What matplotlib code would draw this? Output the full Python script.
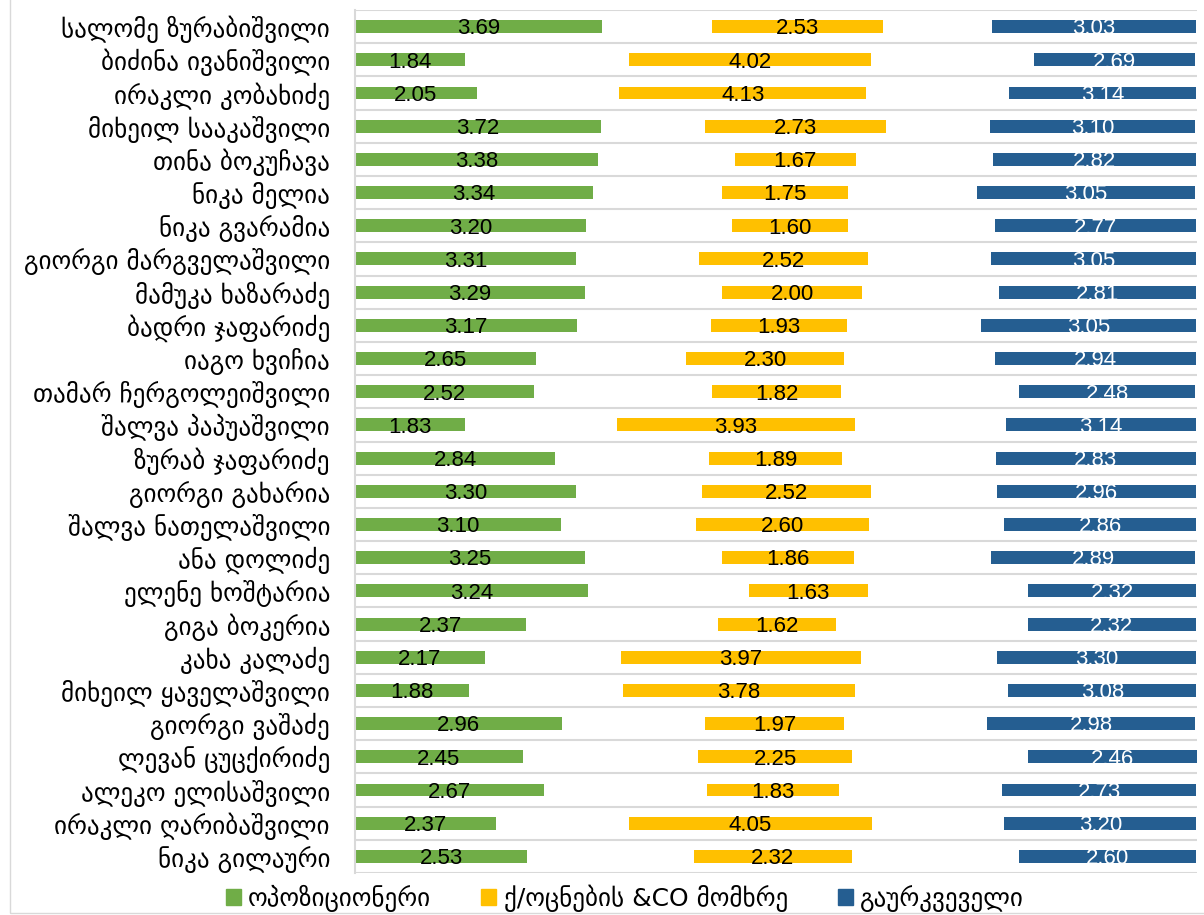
import matplotlib.pyplot as plt
import numpy as np
from matplotlib.patches import Rectangle, Patch

names = ['სალომე ზურაბიშვილი', 'ბიძინა ივანიშვილი', 'ირაკლი კობახიძე', 'მიხეილ სააკაშვილი',
         'თინა ბოკუჩავა', 'ნიკა მელია', 'ნიკა გვარამია', 'გიორგი მარგველაშვილი',
         'მამუკა ხაზარაძე', 'ბადრი ჯაფარიძე', 'იაგო ხვიჩია', 'თამარ ჩერგოლეიშვილი',
         'შალვა პაპუაშვილი', 'ზურაბ ჯაფარიძე', 'გიორგი გახარია', 'შალვა ნათელაშვილი',
         'ანა დოლიძე', 'ელენე ხოშტარია', 'გიგა ბოკერია', 'კახა კალაძე',
         'მიხეილ ყაველაშვილი', 'გიორგი ვაშაძე', 'ლევან ცუცქირიძე', 'ალეკო ელისაშვილი',
         'ირაკლი ღარიბაშვილი', 'ნიკა გილაური']

series_names = ['ოპოზიციონერი', 'ქ/ოცნების &CO მომხრე', 'გაურკვეველი']

# value labels shown on the bars
opp_lbl = [3.69, 1.84, 2.05, 3.72, 3.38, 3.34, 3.20, 3.31, 3.29, 3.17, 2.65, 2.52, 1.83,
           2.84, 3.30, 3.10, 3.25, 3.24, 2.37, 2.17, 1.88, 2.96, 2.45, 2.67, 2.37, 2.53]
gov_lbl = [2.53, 4.02, 4.13, 2.73, 1.67, 1.75, 1.60, 2.52, 2.00, 1.93, 2.30, 1.82, 3.93,
           1.89, 2.52, 2.60, 1.86, 1.63, 1.62, 3.97, 3.78, 1.97, 2.25, 1.83, 4.05, 2.32]
und_lbl = [3.03, 2.69, 3.14, 3.10, 2.82, 3.05, 2.77, 3.05, 2.81, 3.05, 2.94, 2.48, 3.14,
           2.83, 2.96, 2.86, 2.89, 2.32, 2.32, 3.30, 3.08, 2.98, 2.46, 2.73, 3.20, 2.60]

# stacked segment lengths (green, spacer, yellow, spacer, blue)
opp_len = [4.47, 1.99, 2.20, 4.44, 4.39, 4.30, 4.18, 4.00, 4.16, 4.02, 3.27, 3.24, 1.99,
           3.62, 3.99, 3.72, 4.16, 4.22, 3.09, 2.35, 2.06, 3.75, 3.03, 3.41, 2.55, 3.11]
gap_len = [1.98, 2.96, 2.58, 1.89, 2.48, 2.33, 2.64, 2.22, 2.47, 2.42, 2.72, 3.21, 2.74,
           2.77, 2.28, 2.44, 2.47, 2.90, 3.47, 2.46, 2.78, 2.58, 3.17, 2.96, 2.40, 3.01]
gov_len = [3.09, 4.37, 4.46, 3.26, 2.18, 2.28, 2.10, 3.06, 2.54, 2.46, 2.85, 2.34, 4.30,
           2.42, 3.06, 3.14, 2.39, 2.15, 2.13, 4.34, 4.19, 2.51, 2.79, 2.37, 4.39, 2.87]
und_len = [3.68, 2.91, 3.38, 3.71, 3.68, 3.95, 3.64, 3.71, 3.57, 3.88, 3.65, 3.19, 3.43,
           3.62, 3.59, 3.46, 3.70, 3.04, 3.04, 3.59, 3.40, 3.77, 3.06, 3.51, 3.47, 3.21]

colors = ['#70ad47', '#ffc000', '#255e91']
num_font = ['Liberation Sans', 'DejaVu Sans']

fig = plt.figure(figsize=(12.04, 9.15), dpi=100)
ax = fig.add_axes([355 / 1204, 1 - 873 / 915, 842 / 1204, 863 / 915])

y = np.arange(len(names))
g = np.array(opp_len)
s = np.array(gap_len)
yl = np.array(gov_len)
b = np.array(und_len)

h = 0.39
ax.barh(y, g, height=h, color=colors[0])
ax.barh(y, yl, left=g + s, height=h, color=colors[1])
ax.barh(y, b, left=g + s + yl + s, height=h, color=colors[2])

dy = 0.07
for i in range(len(names)):
    ax.text(g[i] / 2, i + dy, f'{opp_lbl[i]:.2f}', ha='center', va='center',
            fontsize=16, color='black', family=num_font)
    ax.text(g[i] + s[i] + yl[i] / 2, i + dy, f'{gov_lbl[i]:.2f}', ha='center', va='center',
            fontsize=16, color='black', family=num_font)
    ax.text(g[i] + 2 * s[i] + yl[i] + b[i] / 2, i + dy, f'{und_lbl[i]:.2f}', ha='center',
            va='center', fontsize=16, color='white', family=num_font)

for k in range(len(names) + 1):
    ax.axhline(k - 0.5, color='#d9d9d9', lw=1.5, zorder=0)

ax.set_xlim(0, (g + 2 * s + yl + b).max())
ax.set_ylim(len(names) - 0.5, -0.5)
ax.set_yticks(y)
ax.set_yticklabels(names, fontsize=18, family='DejaVu Sans')
ax.tick_params(axis='y', length=0, pad=18)
ax.set_xticks([])
for side in ['top', 'right', 'bottom']:
    ax.spines[side].set_visible(False)
ax.spines['left'].set_color('#d9d9d9')
ax.spines['left'].set_linewidth(1.5)

handles = [Patch(color=c) for c in colors]
fig.legend(handles, series_names, loc='center', bbox_to_anchor=(0.519, 1 - 898 / 915),
           ncol=3, frameon=False, handlelength=0.6, handleheight=0.6,
           handletextpad=0.3, columnspacing=2.0, prop={'family': 'DejaVu Sans', 'size': 18})

fig.patches.append(Rectangle((10 / 1204, 2 / 915), 1.1, 1.1, transform=fig.transFigure,
                             fill=False, edgecolor='#d9d9d9', lw=1.0))

fig.savefig('out.png', dpi=100)
